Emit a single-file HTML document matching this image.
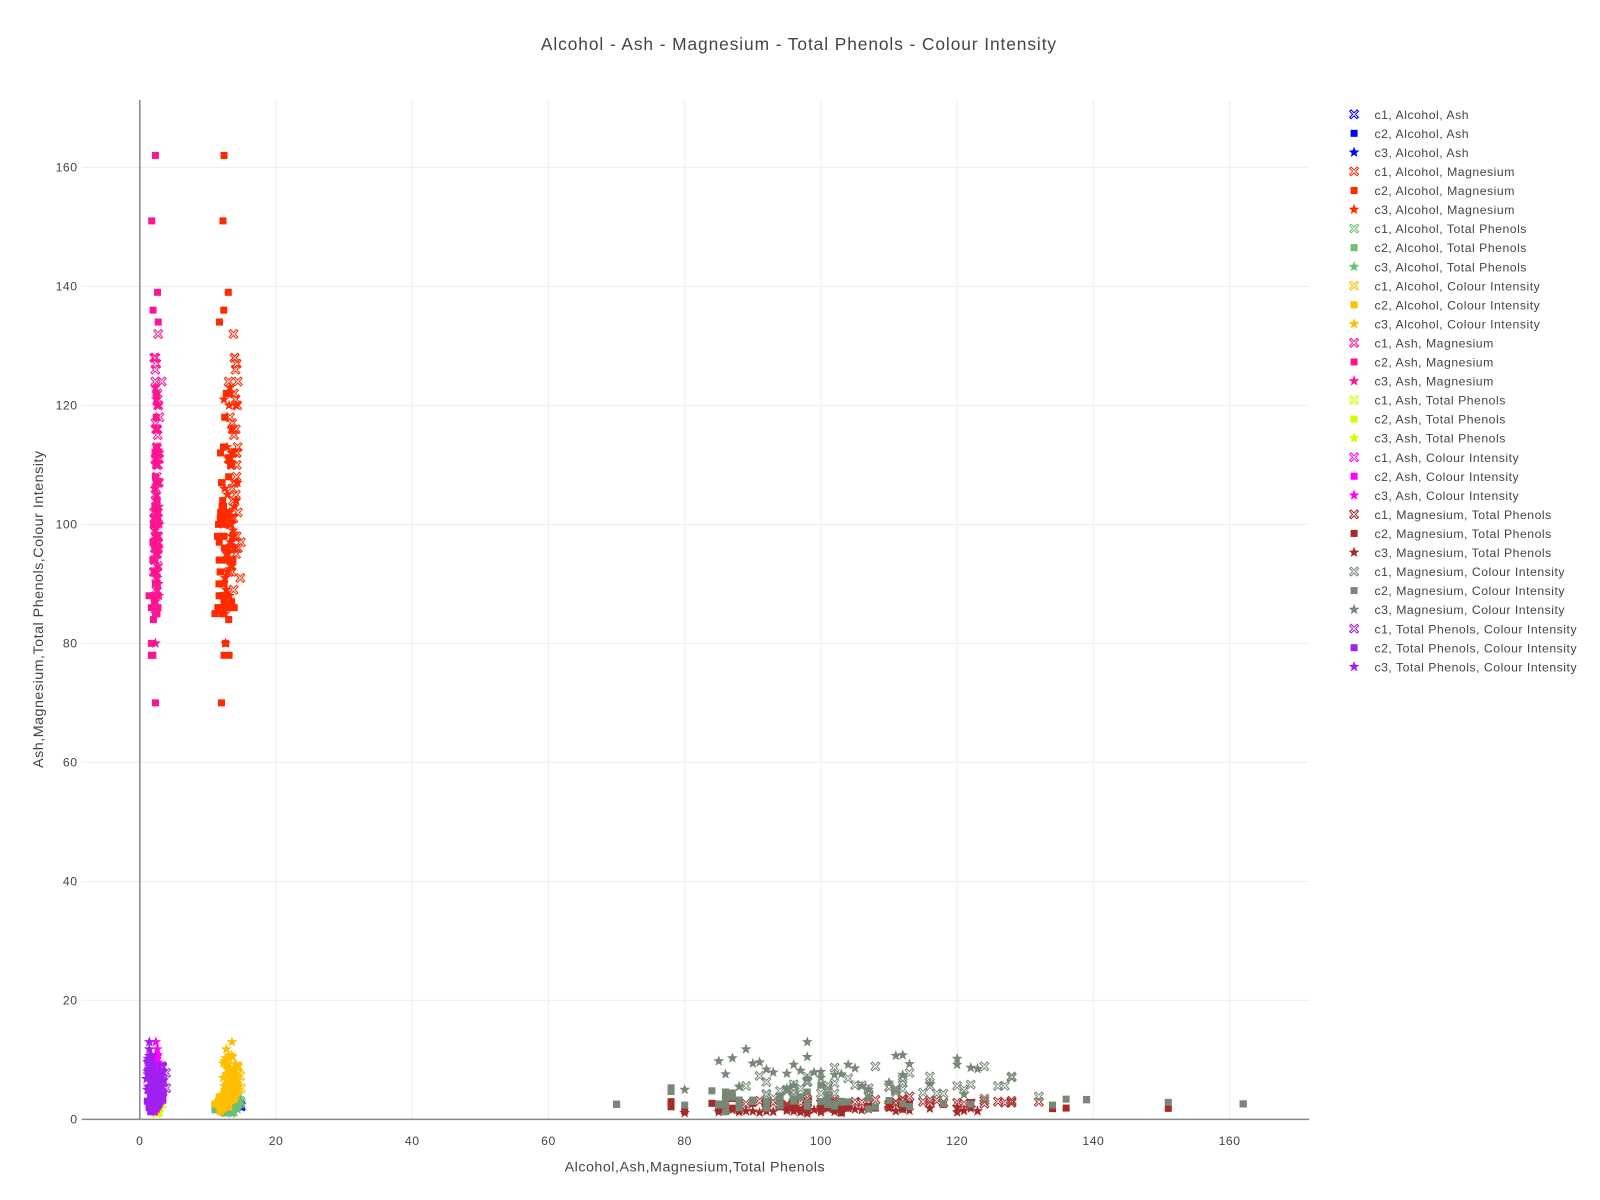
<!DOCTYPE html>
<html><head><meta charset="utf-8">
<style>
html,body{margin:0;padding:0;background:#fff;}
svg{display:block;font-family:"Liberation Sans","Open Sans",sans-serif;}
svg text{letter-spacing:0.5px;}
</style></head>
<body>
<svg id="chart" width="1600" height="1200">
<g transform="scale(1.0204)">
<text x="783" y="49" text-anchor="middle" font-size="17" fill="#444" style="letter-spacing:0.9px">Alcohol - Ash - Magnesium - Total Phenols - Colour Intensity</text>
<g id="grid"></g>
<g id="marks"></g>
<g id="axes"></g>
<text x="681" y="1148" text-anchor="middle" font-size="14" fill="#444">Alcohol,Ash,Magnesium,Total Phenols</text>
<text transform="translate(42,597) rotate(-90)" text-anchor="middle" font-size="14" fill="#444">Ash,Magnesium,Total Phenols,Colour Intensity</text>
<g id="legend"></g>
</g>
</svg>
<script>
// columns: alcohol, ash, magnesium, total phenols, colour intensity
const class1 = [
[14.23,2.43,127,2.80,5.64],[13.20,2.14,100,2.65,4.38],[13.16,2.67,101,2.80,5.68],[14.37,2.50,113,3.85,7.80],
[13.24,2.87,118,2.80,4.32],[14.20,2.45,112,3.27,6.75],[14.39,2.45,96,2.50,5.25],[14.06,2.61,121,2.60,5.05],
[14.83,2.17,97,2.80,5.20],[13.86,2.27,98,2.98,7.22],[14.10,2.30,105,2.95,5.75],[14.12,2.32,95,2.20,5.00],
[13.75,2.41,89,2.60,5.60],[14.75,2.39,91,3.10,7.30],[14.38,2.38,102,3.30,8.70],[13.63,2.70,112,2.85,5.10],
[14.30,2.72,120,2.80,5.65],[13.83,2.62,115,2.95,4.50],[14.19,2.48,108,3.30,8.90],[13.64,2.56,116,2.70,7.20],
[14.06,2.28,126,3.00,5.60],[12.93,2.65,102,2.41,4.38],[13.71,2.36,101,2.61,5.68],[12.85,2.52,95,2.48,4.80],
[13.50,2.61,96,2.53,3.93],[13.05,3.22,124,2.63,3.52],[13.39,2.62,93,2.85,3.58],[13.30,2.14,94,2.40,4.80],
[13.87,2.80,107,2.95,3.95],[14.02,2.21,96,2.65,4.50],[13.73,2.70,101,3.00,4.70],[13.58,2.36,106,2.86,5.70],
[13.68,2.36,104,2.42,6.90],[13.76,2.70,132,2.95,3.84],[13.51,2.65,110,2.20,5.40],[13.48,2.41,92,2.62,4.20],
[13.28,2.84,111,2.85,5.10],[13.05,2.55,111,2.74,4.60],[13.07,2.10,92,2.13,4.28],[14.22,2.51,110,2.53,5.43],
[13.56,2.31,117,3.18,4.36],[13.41,2.12,101,2.60,5.04],[13.88,2.59,107,3.88,5.24],[13.24,2.29,111,2.75,4.90],
[13.05,2.10,102,2.95,6.10],[14.21,2.44,112,3.40,6.20],[14.38,2.28,124,3.17,8.90],[13.90,2.12,128,3.10,7.20],
[14.10,2.40,116,3.20,5.60],[13.94,2.27,128,2.80,7.05],[13.05,2.04,92,2.85,6.30],[13.83,2.58,122,2.70,5.85],
[13.82,2.58,98,2.75,6.25],[14.22,2.70,98,3.38,6.38],[13.29,2.68,96,2.86,5.88]
];
const class2 = [
[12.37,1.36,88,1.98,1.95],[12.33,2.28,101,2.05,3.27],[12.64,2.02,100,2.02,5.75],[13.67,1.92,94,2.10,3.80],
[12.37,2.16,87,3.50,4.45],[12.17,2.53,104,1.89,2.95],[12.37,2.56,98,2.42,4.60],[13.11,1.70,78,2.98,5.30],
[12.37,1.92,78,2.11,4.68],[13.34,2.36,110,2.53,3.17],[12.21,1.75,151,1.85,2.85],[12.29,2.21,103,1.10,3.05],
[13.86,2.67,86,2.95,3.38],[13.49,2.24,87,1.88,3.74],[12.99,2.60,139,3.30,3.35],[11.96,2.30,101,3.38,3.21],
[11.66,1.92,97,1.61,3.80],[13.03,1.71,86,1.95,4.60],[11.84,2.23,112,1.72,2.65],[12.33,1.95,136,1.90,3.40],
[12.70,2.40,122,2.83,2.57],[12.00,2.30,70,2.55,2.50],[12.72,2.20,94,2.80,3.90],[12.08,2.51,98,1.40,2.20],
[13.05,2.00,84,2.70,4.80],[11.84,2.12,92,2.00,3.05],[12.67,2.51,102,1.65,2.62],[12.16,2.53,85,2.20,2.45],
[11.65,2.00,94,2.30,2.60],[11.64,2.00,88,2.00,2.80],[12.08,2.42,107,2.20,1.74],[12.08,2.32,85,1.80,2.40],
[12.00,2.42,107,2.00,3.60],[12.69,2.26,96,2.90,3.05],[12.29,2.46,113,2.60,2.15],[11.62,2.30,90,2.72,3.25],
[12.47,2.40,118,2.48,2.60],[11.81,2.61,101,2.20,2.50],[12.29,2.20,86,2.10,3.90],[12.37,2.30,162,2.60,2.60],
[11.70,2.70,134,1.80,2.40],[11.82,2.15,86,1.60,1.28],[12.43,2.70,88,3.00,3.25],[11.45,2.40,86,2.10,2.50],
[11.41,2.40,98,2.00,2.80],[12.08,2.34,103,2.10,2.90],[11.03,2.40,85,1.60,2.60],[12.60,1.70,80,1.40,2.40],
[11.56,2.30,100,3.00,3.00],[12.42,2.20,96,2.40,3.40],[13.05,2.30,108,1.90,2.10],[11.87,2.60,102,2.35,2.20],
[12.07,2.10,88,1.50,2.00],[11.79,2.30,92,2.00,1.90],[12.37,2.50,90,2.70,3.00],[12.04,2.20,94,2.20,2.30]
];
const class3 = [
[12.86,2.40,86,1.51,7.60],[12.88,2.48,92,1.35,8.40],[12.81,2.45,88,1.25,5.50],[12.70,2.56,89,1.40,11.80],
[12.51,2.28,85,1.25,9.80],[12.60,2.25,87,1.60,10.30],[12.25,2.72,90,1.36,9.40],[12.53,2.54,91,1.15,9.60],
[13.49,2.64,93,1.30,7.90],[12.84,2.53,95,1.80,7.70],[12.93,2.30,96,1.35,9.20],[13.36,2.70,97,1.20,8.20],
[13.52,2.35,98,1.40,13.00],[13.62,2.50,98,1.60,10.50],[12.25,2.60,100,1.60,7.00],[13.16,2.45,102,1.30,7.50],
[13.88,2.80,103,1.15,7.60],[12.87,2.48,105,1.70,8.60],[13.32,2.36,110,1.90,6.20],[13.08,2.40,111,1.40,10.70],
[13.50,2.65,112,1.70,10.80],[12.79,2.54,113,1.50,9.30],[13.11,2.50,120,1.20,10.20],[13.23,2.28,123,1.40,8.50],
[12.58,2.30,80,1.10,5.00],[13.17,2.80,88,1.65,5.50],[13.84,2.84,96,1.85,5.70],[12.45,2.20,106,1.55,5.60],
[14.34,2.70,107,1.70,5.00],[13.48,2.48,116,1.85,6.00],[12.36,2.40,121,1.45,4.20],[13.69,2.86,112,2.00,7.50],
[12.85,2.18,101,1.80,4.00],[13.58,2.42,98,0.98,6.80],[13.40,2.90,100,1.20,8.00],[12.77,2.60,95,1.45,5.20],
[14.16,2.44,104,1.90,9.20],[13.71,2.24,99,1.60,7.90],[13.27,2.48,122,1.85,8.70],[14.13,2.74,120,2.05,9.20]
];
const featureNames = ["Alcohol","Ash","Magnesium","Total Phenols","Colour Intensity"];
const pairIndex = [[0,1],[0,2],[0,3],[0,4],[1,2],[1,3],[1,4],[2,3],[2,4],[3,4]];
const pairColors = ["#0000ff","#ff2a00","#6fbf73","#ffbf00","#ff1493","#ccff00","#ff00ff","#a52a2a","#778877","#a020f0"];
const xTicks = [0,20,40,60,80,100,120,140,160];
const yTicks = [0,20,40,60,80,100,120,140,160];

const NS="http://www.w3.org/2000/svg";
const L=80,R=1283,T=98,B=1097;
const x0=137, xs=(1205-137)/160;
const y0=1097, ys=(1097-164)/160;
function X(v){return x0+v*xs;}
function Y(v){return y0-v*ys;}
function mk(tag,attrs,parent){const e=document.createElementNS(NS,tag);for(const k in attrs)e.setAttribute(k,attrs[k]);parent.appendChild(e);return e;}
function xPath(cx,cy,r){
  const a=r*0.32, pts=[[0,-a],[r-a,-r],[r,-r+a],[a,0],[r,r-a],[r-a,r],[0,a],[-r+a,r],[-r,r-a],[-a,0],[-r,-r+a],[-r+a,-r]];
  return "M"+pts.map(p=>(cx+p[0]).toFixed(1)+","+(cy+p[1]).toFixed(1)).join("L")+"Z";
}
function starPath(cx,cy,r){
  let d="";for(let i=0;i<10;i++){const rr=i%2?r*0.42:r;const a=-Math.PI/2+i*Math.PI/5;d+=(i?"L":"M")+(cx+rr*Math.cos(a)).toFixed(1)+","+(cy+rr*Math.sin(a)).toFixed(1);}return d+"Z";
}
function marker(kind,cx,cy,color,parent,size){
  if(kind===0) return mk("path",{d:xPath(cx,cy,size),fill:"none",stroke:color,"stroke-width":1},parent);
  if(kind===1) return mk("rect",{x:cx-size*0.8,y:cy-size*0.8,width:size*1.6,height:size*1.6,fill:color},parent);
  return mk("path",{d:starPath(cx,cy,size*1.3),fill:color},parent);
}
const grid=document.getElementById("grid"),axes=document.getElementById("axes"),marks=document.getElementById("marks"),legend=document.getElementById("legend");
xTicks.forEach(t=>{
  if(t!==0){const g=mk("line",{x1:X(t),x2:X(t),y1:T,y2:B,stroke:"#eee","stroke-width":1},grid);
  
  }
  const lb=mk("text",{x:X(t),y:B+25,"text-anchor":"middle","font-size":12,fill:"#444"},axes);lb.textContent=t;
  
  
});
yTicks.forEach(t=>{
  if(t!==0){const g=mk("line",{x1:L,x2:R,y1:Y(t),y2:Y(t),stroke:"#eee","stroke-width":1},grid);
  
  }
  const lb=mk("text",{x:L-4,y:Y(t)+4,"text-anchor":"end","font-size":12,fill:"#444"},axes);lb.textContent=t;
  
  
});
const xa=mk("line",{x1:L,x2:R,y1:B,y2:B,stroke:"#888","stroke-width":1.5},axes);


const ya=mk("line",{x1:X(0),x2:X(0),y1:T,y2:B,stroke:"#888","stroke-width":1.5},axes);



const classes=[class1,class2,class3];
let li=0;
pairIndex.forEach((p,pi)=>{
  classes.forEach((rows,ci)=>{
    const g=mk("g",{},marks);
    
    
    rows.forEach(r=>{
      const m=marker(ci,X(r[p[0]]),Y(r[p[1]]),pairColors[pi],g,4.3);
      
      
    });
    const ly=112+li*18.67;
    const le=mk("g",{},legend);
    
    
    marker(ci,1327,ly,pairColors[pi],le,4.3);
    const t=mk("text",{x:1347,y:ly+4.5,"font-size":12,fill:"#444"},le);
    t.textContent="c"+(ci+1)+", "+featureNames[p[0]]+", "+featureNames[p[1]];
    li++;
  });
});
</script>
</body></html>
